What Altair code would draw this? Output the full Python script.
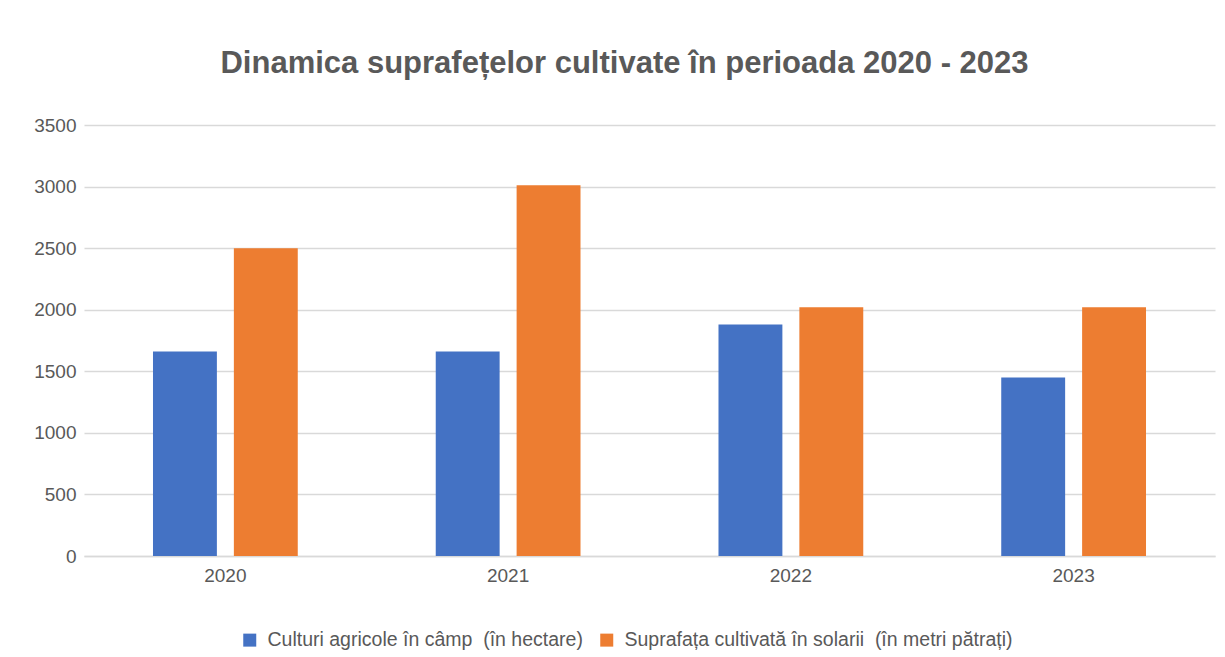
import altair as alt
import pandas as pd

years = ["2020", "2021", "2022", "2023"]
series_names = [
    "Culturi agricole în câmp\u00a0 (în hectare)",
    "Suprafața cultivată în solarii\u00a0 (în metri pătrați)",
]
camp = [1660, 1660, 1880, 1450]
solarii = [2500, 3010, 2020, 2020]
colors = ["#4472C4", "#ED7D31"]
y_ticks = [0, 500, 1000, 1500, 2000, 2500, 3000, 3500]

rows = []
for i, y in enumerate(years):
    rows.append({"An": y, "Serie": series_names[0], "Valoare": camp[i]})
    rows.append({"An": y, "Serie": series_names[1], "Valoare": solarii[i]})
df = pd.DataFrame(rows)

FONT = "Liberation Sans"
GREY = "#595959"

chart = (
    alt.Chart(df)
    .mark_bar()
    .encode(
        x=alt.X(
            "An:N",
            sort=years,
            scale=alt.Scale(paddingInner=0.488, paddingOuter=0.244),
            axis=alt.Axis(
                title=None,
                labelAngle=0,
                labelFont=FONT,
                labelFontSize=19,
                labelColor=GREY,
                labelPadding=10,
                ticks=False,
                domainColor="#d9d9d9",
                domainWidth=1.5,
                grid=False,
            ),
        ),
        xOffset=alt.XOffset(
            "Serie:N",
            sort=series_names,
            scale=alt.Scale(paddingInner=0.21, paddingOuter=0),
        ),
        y=alt.Y(
            "Valoare:Q",
            scale=alt.Scale(domain=[0, 3500], nice=False),
            axis=alt.Axis(
                title=None,
                values=y_ticks,
                format="d",
                labelFont=FONT,
                labelFontSize=19,
                labelColor=GREY,
                labelPadding=8,
                ticks=False,
                domain=False,
                gridColor="#d9d9d9",
                gridWidth=1.5,
            ),
        ),
        color=alt.Color(
            "Serie:N",
            sort=series_names,
            scale=alt.Scale(domain=series_names, range=colors),
            legend=alt.Legend(
                title=None,
                orient="none",
                direction="horizontal",
                legendX=156,
                legendY=505,
                symbolType="square",
                symbolSize=169,
                symbolStrokeWidth=0,
                labelFont=FONT,
                labelFontSize=19.5,
                labelColor=GREY,
                labelLimit=600,
                columnPadding=14,
                labelOffset=8,
            ),
        ),
    )
    .properties(
        width=1131,
        height=431,
        title=alt.TitleParams(
            "Dinamica suprafețelor cultivate în perioada 2020 - 2023",
            font=FONT,
            fontSize=31,
            fontWeight="bold",
            color=GREY,
            anchor="middle",
            offset=36,
            dx=-25,
        ),
        background="white",
        autosize=alt.AutoSizeParams(type="none"),
        padding={"left": 76, "top": 117, "right": 2, "bottom": 101},
    )
    .configure_view(stroke=None)
)

chart.save("out.html", embed_options={"renderer": "svg", "actions": False})
